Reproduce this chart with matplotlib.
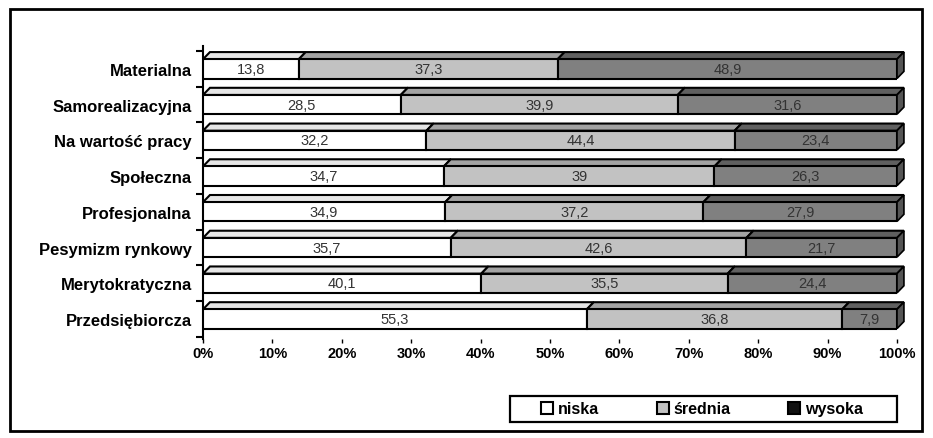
import numpy as np
import matplotlib.pyplot as plt
from matplotlib.patches import Polygon, Rectangle

plt.rcParams['font.family'] = ['Liberation Sans', 'DejaVu Sans']

categories = ['Materialna', 'Samorealizacyjna', 'Na wartość pracy', 'Społeczna',
              'Profesjonalna', 'Pesymizm rynkowy', 'Merytokratyczna', 'Przedsiębiorcza']
niska = [13.8, 28.5, 32.2, 34.7, 34.9, 35.7, 40.1, 55.3]
srednia = [37.3, 39.9, 44.4, 39.0, 37.2, 42.6, 35.5, 36.8]
wysoka = [48.9, 31.6, 23.4, 26.3, 27.9, 21.7, 24.4, 7.9]
series_names = ['niska', 'średnia', 'wysoka']

front = ['#ffffff', '#c2c2c2', '#808080']
topc = ['#e6e6e6', '#a3a3a3', '#606060']
side = '#555555'

fig = plt.figure(figsize=(9.33, 4.39), dpi=100)
ax = fig.add_axes([203 / 933, 1 - 340 / 439, 694 / 933, 293 / 439])

n = len(categories)
ypos = np.arange(n)[::-1]
h = 0.54
dx, dy = 1.0, 0.2

left = np.zeros(n)
for k, vals in enumerate([niska, srednia, wysoka]):
    vals = np.array(vals)
    ax.barh(ypos, vals, left=left, height=h, color=front[k],
            edgecolor='black', linewidth=1.5, zorder=3)
    for y, l, v in zip(ypos, left, vals):
        top = y + h / 2
        ax.add_patch(Polygon([(l, top), (l + dx, top + dy), (l + v + dx, top + dy), (l + v, top)],
                             closed=True, facecolor=topc[k], edgecolor='black',
                             linewidth=1.5, zorder=2, clip_on=False))
        txt = f'{v:g}'.replace('.', ',')
        ax.text(l + v / 2, y, txt, ha='center', va='center', fontsize=10.5,
                color='#333333', zorder=5)
    left = left + vals

# right-hand side faces of the bars
for y, r in zip(ypos, left):
    ax.add_patch(Polygon([(r, y - h / 2), (r, y + h / 2), (r + dx, y + h / 2 + dy), (r + dx, y - h / 2 + dy)],
                         closed=True, facecolor=side, edgecolor='black', linewidth=1.2,
                         zorder=2, clip_on=False))

ax.set_xlim(0, 100)
ax.set_ylim(-0.56, n - 1 + 0.64)
ax.set_xticks(np.arange(0, 101, 10))
ax.set_xticklabels([f'{t}%' for t in range(0, 101, 10)], fontsize=10.5, fontweight='bold')
ax.set_yticks(ypos)
ax.set_yticklabels(categories, fontsize=12, fontweight='bold')
ax.set_yticks(np.arange(-0.5, n), minor=True)
ax.tick_params(axis='y', which='major', length=0, pad=8)
ax.tick_params(axis='y', which='minor', length=5, width=1.5, direction='out')
ax.tick_params(axis='x', length=3, width=1, pad=2)
for s in ['top', 'right', 'bottom']:
    ax.spines[s].set_visible(False)
ax.spines['left'].set_linewidth(1.5)
ax.set_facecolor('none')

# legend without its own frame, boxed separately
handles = [Rectangle((0, 0), 1, 1, facecolor=c, edgecolor='black', linewidth=1.5)
           for c in ['#ffffff', '#c2c2c2', '#111111']]
fig.legend(handles, series_names, ncol=3, loc='center',
           bbox_to_anchor=(702 / 933, 1 - 410 / 439), frameon=False,
           handlelength=0.75, handleheight=0.75, handletextpad=0.3, columnspacing=3.6,
           prop={'weight': 'bold', 'size': 11.5})
fig.patches.append(Rectangle((510 / 933, 1 - 423 / 439), 387 / 933, 26 / 439,
                             transform=fig.transFigure, fill=False, edgecolor='black', linewidth=1.6))

fig.patches.append(Rectangle((10 / 933, 1 - 432 / 439), 912 / 933, 422 / 439,
                             transform=fig.transFigure, fill=False, edgecolor='black', linewidth=2))

fig.savefig('out.png', dpi=100)
